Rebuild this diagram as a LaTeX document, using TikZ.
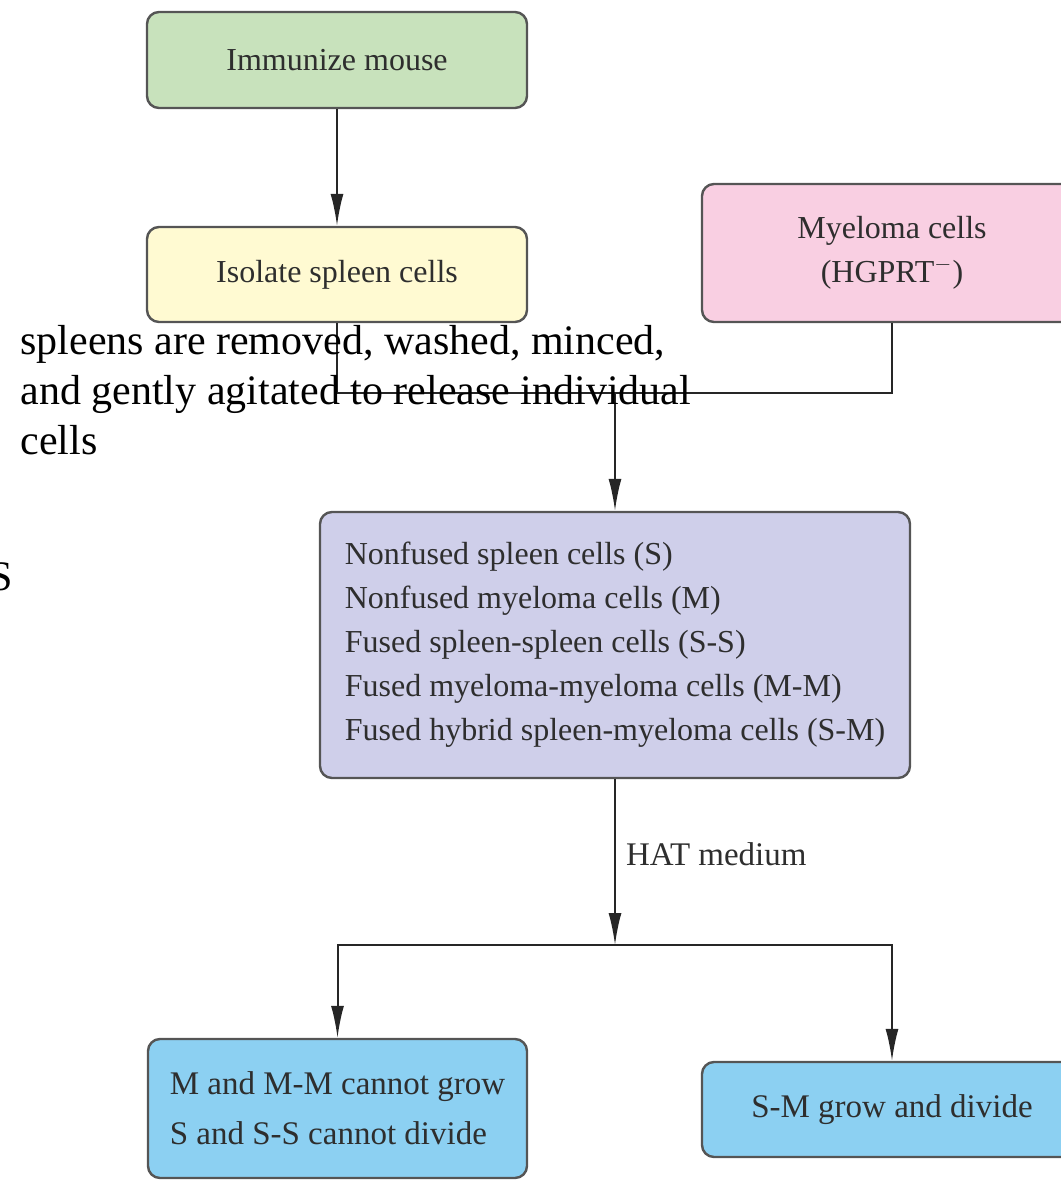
\documentclass[tikz,border=0pt]{standalone}
\usepackage{fontspec}
\setmainfont{Liberation Serif}
\usetikzlibrary{arrows.meta}

\definecolor{mousegreen}{HTML}{C8E2BC}
\definecolor{spleenyellow}{HTML}{FFFAD2}
\definecolor{myelomapink}{HTML}{F9CFE2}
\definecolor{mixpurple}{HTML}{CFCFEA}
\definecolor{resultblue}{HTML}{8CD0F2}
\definecolor{boxline}{HTML}{555555}
\definecolor{boxtext}{HTML}{2E2E2E}

\tikzset{
  flowbox/.style={draw=boxline, line width=1.2pt, rounded corners=6pt,
    text=boxtext, font=\fontsize{16}{22}\selectfont, inner sep=0pt},
  flowline/.style={line width=1pt, black!85},
  flowarrow/.style={flowline, -{Latex[length=16pt,width=6.5pt]}},
  notetext/.style={font=\fontsize{21}{25}\selectfont, inner sep=0pt, text=black}
}

\begin{document}
\begin{tikzpicture}[x=0.5pt, y=-0.5pt]
% 画布范围
\useasboundingbox (0,0) rectangle (1061,1180);

% 上方三个方框
\node[flowbox, fill=mousegreen, minimum width=190pt, minimum height=48pt] (immunize) at (337,60) {Immunize mouse};
\node[flowbox, fill=spleenyellow, minimum width=190pt, minimum height=47.5pt] (spleen) at (337,274.5) {Isolate spleen cells};
\node[flowbox, fill=myelomapink, minimum width=190pt, minimum height=69pt, align=center] (myeloma) at (892,253) {Myeloma cells\\(HGPRT\textsuperscript{$-$})};

% 融合后的细胞
\node[flowbox, fill=mixpurple, minimum width=295pt, minimum height=133pt, align=left] (mix) at (615,645)
  {Nonfused spleen cells (S)\\Nonfused myeloma cells (M)\\Fused spleen-spleen cells (S-S)\\Fused myeloma-myeloma cells (M-M)\\Fused hybrid spleen-myeloma cells (S-M)};

% HAT 培养后的结果
\node[flowbox, fill=resultblue, minimum width=189.5pt, minimum height=69.5pt, align=left, font=\fontsize{16.5}{25}\selectfont] (nogrow) at (337.5,1108.5) {M and M-M cannot grow\\S and S-S cannot divide};
\node[flowbox, fill=resultblue, minimum width=190pt, minimum height=47.5pt, font=\fontsize{16.5}{22}\selectfont] (grow) at (892,1109.5) {S-M grow and divide};

% 连线
\coordinate (fuse) at (615,393);
\coordinate (split) at (615,945);
\draw[flowarrow] (immunize) -- (spleen);
\draw[flowline] (spleen.south) |- (fuse) -| (myeloma.south);
\draw[flowarrow] (fuse) -- (mix.north);
\draw[flowarrow] (mix.south) -- (split) node[pos=0.45, right, inner sep=5pt, text=boxtext, font=\fontsize{16.5}{22}\selectfont] (hat) {HAT medium};
\draw[flowarrow] (split) -| (nogrow.north);
\draw[flowarrow] (split) -| (grow.north);

% 说明文字
\node[notetext, anchor=north west, align=left] (note) at (20,325) {spleens are removed, washed, minced,\\and gently agitated to release individual\\cells};
\node[notetext, anchor=base west] (stray) at (-11,590) {S};
\end{tikzpicture}
\end{document}
